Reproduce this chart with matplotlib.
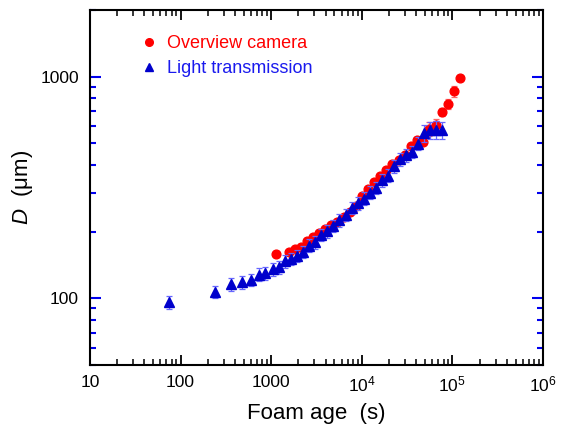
import numpy as np
import matplotlib
matplotlib.use("Agg")
import matplotlib.pyplot as plt
from matplotlib.ticker import LogLocator, FixedLocator, FuncFormatter, NullFormatter
from matplotlib.lines import Line2D

plt.rcParams['font.family'] = ['Liberation Sans', 'DejaVu Sans']
plt.rcParams['mathtext.fontset'] = 'custom'
plt.rcParams['mathtext.rm'] = 'Liberation Sans'
plt.rcParams['mathtext.it'] = 'Liberation Sans:italic'

# Overview camera (red circles)
cam_t = [1138, 1560, 1816, 2117, 2466, 2873, 3345, 3896, 4538, 5360, 6307, 7410,
         8630, 9970, 11620, 13640, 15900, 18500, 21700, 25700, 29700, 34600,
         41000, 47300, 55600, 65300, 76200, 89400, 105000, 121000]
cam_D = [159, 161, 167, 171, 181, 189, 197, 206, 214, 222, 232, 246,
         261, 289, 310, 334, 356, 379, 404, 419, 443, 486,
         520, 507, 581, 604, 691, 753, 859, 986]
cam_err = [0.03] * 24 + [0.07, 0.07, 0.04, 0.05, 0.06, 0.03]

# Light transmission (blue triangles)
lt_t = [74.5, 240, 360, 480, 598, 728, 848, 1038, 1210, 1420, 1653, 1927, 2244,
        2613, 3068, 3548, 4159, 4850, 5650, 6640, 7730, 9010, 10500, 12300,
        14350, 16700, 19450, 22650, 26600, 30750, 36100, 42100, 48100, 56600,
        65900, 76800]
lt_D = [96, 107, 115.6, 118, 121, 128, 130, 135, 138, 147, 151, 155.5, 162,
        173, 179, 193, 201, 212, 225, 238, 256, 268, 282, 300,
        315, 341, 358, 394, 424, 442, 459, 499, 557, 573,
        577, 573]
lt_err = [0.065] * 32 + [0.09, 0.09, 0.09, 0.09]

cam_t = np.array(cam_t); cam_D = np.array(cam_D); cam_err = np.array(cam_err)
lt_t = np.array(lt_t); lt_D = np.array(lt_D); lt_err = np.array(lt_err)

fig = plt.figure(figsize=(5.62, 4.29), dpi=100)
ax = fig.add_axes([0.160, 0.149, 0.806, 0.828])
ax.set_xscale('log')
ax.set_yscale('log')

red = '#ff0000'
blue = '#0000cc'

ax.errorbar(cam_t, cam_D, yerr=cam_D * cam_err, fmt='o', color=red, ms=6.3,
            mec=red, ecolor='#ff6666', elinewidth=0.9, capsize=2.5, capthick=0.9,
            zorder=3)
ax.errorbar(lt_t, lt_D, yerr=lt_D * lt_err, fmt='^', color=blue, ms=6.5,
            mec=blue, ecolor='#6666ff', elinewidth=0.9, capsize=2.5, capthick=0.9,
            zorder=4)

ax.set_xlim(10, 1e6)
ax.set_ylim(50, 2000)

def xfmt(v, pos):
    e = int(round(np.log10(v)))
    if e <= 3:
        return str(int(round(v)))
    return r'$10^{%d}$' % e

ax.xaxis.set_major_locator(LogLocator(base=10, numticks=10))
ax.xaxis.set_major_formatter(FuncFormatter(xfmt))
ax.xaxis.set_minor_locator(LogLocator(base=10, subs=np.arange(2, 10), numticks=20))
ax.xaxis.set_minor_formatter(NullFormatter())

ax.yaxis.set_major_locator(FixedLocator([100, 1000]))
ax.yaxis.set_major_formatter(FuncFormatter(lambda v, p: str(int(round(v)))))
ax.yaxis.set_minor_locator(LogLocator(base=10, subs=np.arange(2, 10), numticks=20))
ax.yaxis.set_minor_formatter(NullFormatter())

ax.tick_params(axis='x', which='both', direction='in', top=True, bottom=True,
               color='black', labelsize=12.5, pad=7)
ax.tick_params(axis='x', which='major', length=7, width=1.3)
ax.tick_params(axis='x', which='minor', length=4, width=1.1)
ax.tick_params(axis='y', which='both', direction='in', left=True, right=True,
               color='#0000ee', labelsize=12.5, pad=8)
ax.tick_params(axis='y', which='major', length=8, width=1.5)
ax.tick_params(axis='y', which='minor', length=4.5, width=1.5)

for s in ax.spines.values():
    s.set_linewidth(1.5)
    s.set_color('black')

ax.set_xlabel('Foam age  (s)', fontsize=16, labelpad=6)
ax.set_ylabel(r'$D$  (μm)', fontsize=16, labelpad=4)

handles = [Line2D([], [], ls='none', marker='o', color=red, ms=5.5),
           Line2D([], [], ls='none', marker='^', color=blue, ms=5.5)]
leg = ax.legend(handles, ['Overview camera', 'Light transmission'],
                loc='upper left', bbox_to_anchor=(0.075, 0.975), frameon=False,
                fontsize=13, handlelength=1.0, handletextpad=0.5,
                labelspacing=0.45, labelcolor=[red, '#1a1aee'])

fig.savefig('out.png', dpi=100)
